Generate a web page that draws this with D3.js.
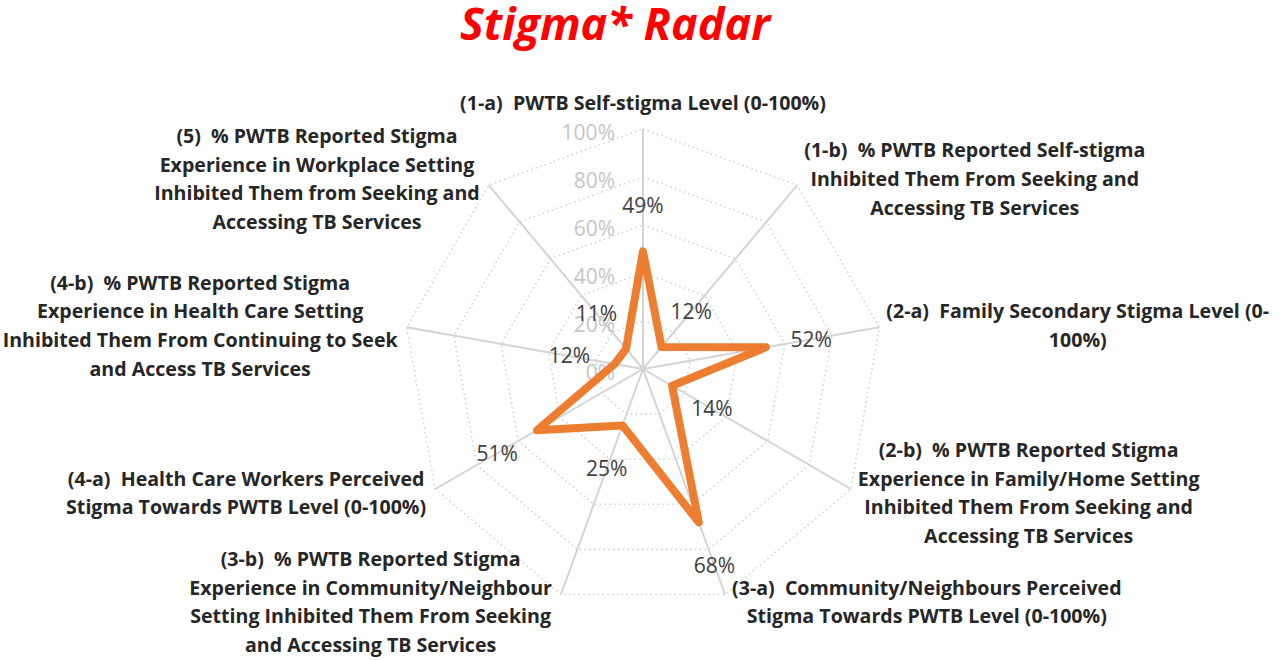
<!DOCTYPE html>
<html>
<head>
<meta charset="utf-8">
<script src="https://cdn.jsdelivr.net/npm/d3@7"></script>
<style>
  body { margin: 0; background: #fff; }
  svg { display: block; }
  text { white-space: pre; }
</style>
</head>
<body>
<script>
const width = 1280;
const height = 660;
const centerX = 643;
const centerY = 369;
const radius = 240;

const chartTitle = "Stigma* Radar";

// axis labels, already broken into lines the way the picture shows them
const categories = [
    ["(1-a)  PWTB Self-stigma Level (0-100%)"],
    ["(1-b)  % PWTB Reported Self-stigma", "Inhibited Them From Seeking and", "Accessing TB Services"],
    ["(2-a)  Family Secondary Stigma Level (0-", "100%)"],
    ["(2-b)  % PWTB Reported Stigma", "Experience in Family/Home Setting", "Inhibited Them From Seeking and", "Accessing TB Services"],
    ["(3-a)  Community/Neighbours Perceived", "Stigma Towards PWTB Level (0-100%)"],
    ["(3-b)  % PWTB Reported Stigma", "Experience in Community/Neighbour", "Setting Inhibited Them From Seeking", "and Accessing TB Services"],
    ["(4-a)  Health Care Workers Perceived", "Stigma Towards PWTB Level (0-100%)"],
    ["(4-b)  % PWTB Reported Stigma", "Experience in Health Care Setting", "Inhibited Them From Continuing to Seek", "and Access TB Services"],
    ["(5)  % PWTB Reported Stigma", "Experience in Workplace Setting", "Inhibited Them from Seeking and", "Accessing TB Services"]
];

const values = [0.49, 0.12, 0.52, 0.14, 0.68, 0.25, 0.51, 0.12, 0.11];

const tickValues = [0, 0.2, 0.4, 0.6, 0.8, 1.0];

const fontFamily = "'Open Sans', 'Noto Sans', sans-serif";
const lineHeight = 28.7;

let svg = d3.select("body")
    .append("svg")
    .attr("width", width)
    .attr("height", height);

const rScale = d3.scaleLinear().domain([0, 1]).range([0, radius]);
const angleScale = d3.scaleLinear().domain([0, categories.length]).range([0, 2 * Math.PI]);
const pct = d3.format(".0%");

// point for axis i at distance r (angle measured clockwise from the top)
const polar = (i, r) => {
    let a = angleScale(i);
    return [centerX + r * Math.sin(a), centerY - r * Math.cos(a)];
};

const main = () => {
    let g = svg.append("g");

    // dotted web rings
    let ring = d3.lineRadial()
        .angle((d, i) => angleScale(i))
        .radius(d => rScale(d))
        .curve(d3.curveLinearClosed);

    tickValues.filter(t => t > 0).forEach(t => {
        g.append("path")
            .attr("transform", `translate(${centerX},${centerY})`)
            .attr("d", ring(categories.map(() => t)))
            .attr("fill", "none")
            .attr("stroke", "#d4d4d4")
            .attr("stroke-width", 1.6)
            .attr("stroke-dasharray", "1.6,3.2");
    });

    // spokes
    categories.forEach((c, i) => {
        let end = polar(i, rScale(1));
        g.append("line")
            .attr("x1", centerX)
            .attr("y1", centerY)
            .attr("x2", end[0])
            .attr("y2", end[1])
            .attr("stroke", "#d4d4d4")
            .attr("stroke-width", 2);
    });

    // tick labels along the top spoke
    tickValues.forEach(t => {
        g.append("text")
            .attr("x", centerX - 28)
            .attr("y", centerY - rScale(t) + 4)
            .attr("dy", "0.35em")
            .attr("text-anchor", "end")
            .attr("font-family", fontFamily)
            .attr("font-size", 21)
            .attr("fill", "#c6c6c6")
            .text(pct(t));
    });

    // series
    g.append("path")
        .attr("transform", `translate(${centerX},${centerY})`)
        .attr("d", ring(values))
        .attr("fill", "none")
        .attr("stroke", "#ed7d31")
        .attr("stroke-width", 8)
        .attr("stroke-linejoin", "round");

    // value labels, pushed out along each spoke
    values.forEach((v, i) => {
        let p = polar(i, rScale(v) + 46);
        g.append("text")
            .attr("x", p[0])
            .attr("y", p[1])
            .attr("dy", "0.35em")
            .attr("text-anchor", "middle")
            .attr("font-family", fontFamily)
            .attr("font-size", 21)
            .attr("fill", "#404040")
            .text(pct(v));
    });

    categories.forEach((lines, i) => drawCategory(g, lines, i));

    // title
    svg.append("text")
        .attr("x", 615)
        .attr("y", 40)
        .attr("text-anchor", "middle")
        .attr("font-family", fontFamily)
        .attr("font-size", 45)
        .attr("font-weight", "bold")
        .attr("font-style", "italic")
        .attr("fill", "#ff0000")
        .text(chartTitle);
};

const drawCategory = (g, lines, i) => {
    let a = angleScale(i);
    let s = Math.sin(a);
    let c = Math.cos(a);
    let end = polar(i, rScale(1));

    let block = g.append("text")
        .attr("font-family", fontFamily)
        .attr("font-size", 19.6)
        .attr("font-weight", "bold")
        .attr("fill", "#262626")
        .attr("text-anchor", "middle");

    let spans = lines.map(l => block.append("tspan").text(l));
    let w = d3.max(spans, t => t.node().getComputedTextLength());

    // where the middle of the block sits
    let midX, midY;
    if (Math.abs(s) < 0.1) {
        midX = end[0];
        midY = end[1] - 26;
    } else {
        midX = s > 0 ? end[0] + 7 + w / 2 : end[0] - 9 - w / 2;
        midY = centerY - (radius + 8) * c;
    }

    spans.forEach((t, k) => {
        t.attr("x", midX)
            .attr("y", midY + (k - (lines.length - 1) / 2) * lineHeight)
            .attr("dy", "0.35em");
    });
};

window.addEventListener("load", main);
</script>
</body>
</html>
